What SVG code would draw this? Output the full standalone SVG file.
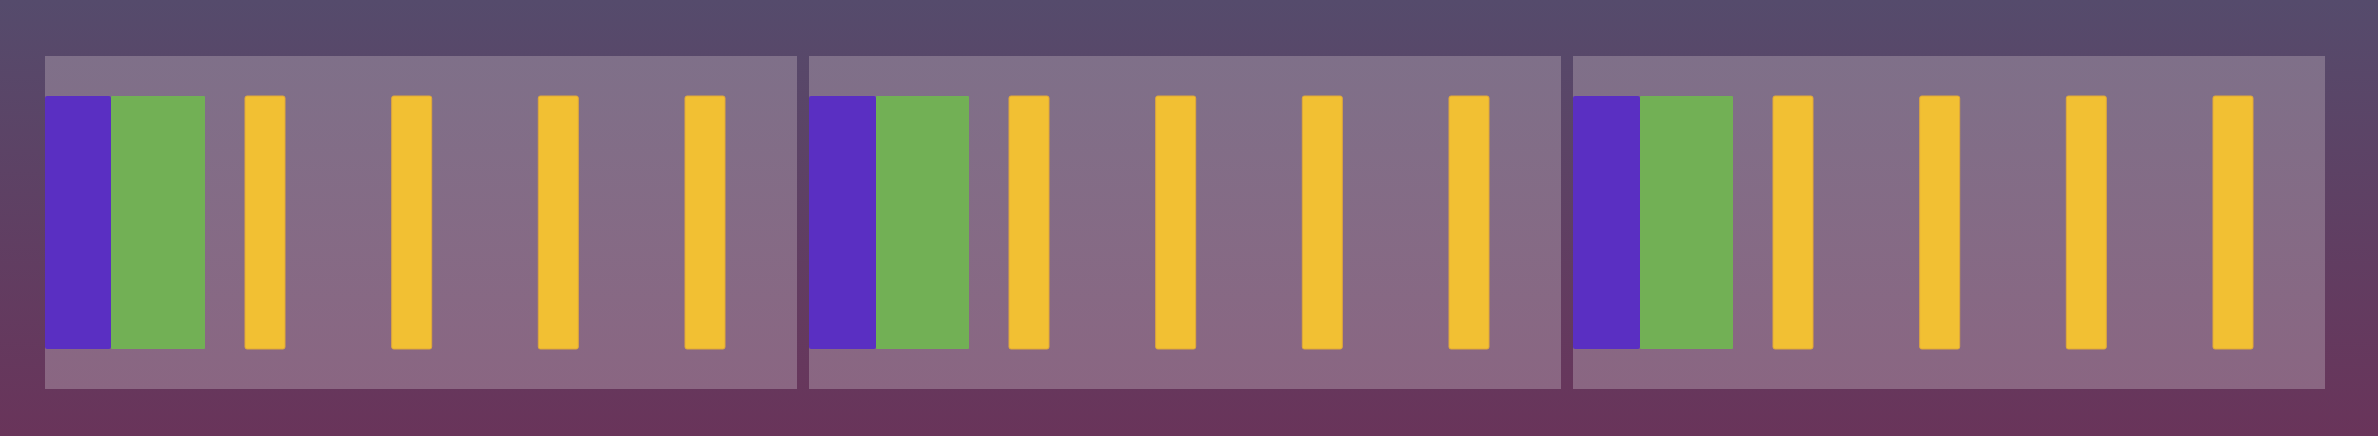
<svg xmlns="http://www.w3.org/2000/svg" width="2378" height="436" viewBox="0 0 2378 436">
<defs>
<linearGradient id="bg" x1="0" y1="0" x2="0" y2="1">
<stop offset="0" stop-color="#554b6c"/>
<stop offset="1" stop-color="#69345a"/>
</linearGradient>
<linearGradient id="pn" x1="0" y1="0" x2="0" y2="1">
<stop offset="0" stop-color="#7f7089"/>
<stop offset="1" stop-color="#8a6682"/>
</linearGradient>
<style>
.panel{fill:url(#pn)}
.blue{fill:#5a2fc2}
.green{fill:#72b055}
.yellow{fill:#f2c033;stroke:#e0a83a;stroke-width:1}
</style>
</defs>
<rect x="0" y="0" width="2378" height="436" fill="url(#bg)"/>
<g id="panel1">
<rect class="panel" x="45" y="56" width="752" height="333"/>
<rect class="blue" x="45" y="96" width="66" height="253" rx="2"/>
<rect class="green" x="111" y="96" width="94" height="253" rx="1"/>
<rect class="yellow" x="245" y="96" width="40" height="253" rx="2"/>
<rect class="yellow" x="391.7" y="96" width="40" height="253" rx="2"/>
<rect class="yellow" x="538.3" y="96" width="40" height="253" rx="2"/>
<rect class="yellow" x="685" y="96" width="40" height="253" rx="2"/>
</g>
<g id="panel2">
<rect class="panel" x="809" y="56" width="752" height="333"/>
<rect class="blue" x="809" y="96" width="67" height="253" rx="2"/>
<rect class="green" x="876" y="96" width="93" height="253" rx="1"/>
<rect class="yellow" x="1009" y="96" width="40" height="253" rx="2"/>
<rect class="yellow" x="1155.7" y="96" width="40" height="253" rx="2"/>
<rect class="yellow" x="1302.3" y="96" width="40" height="253" rx="2"/>
<rect class="yellow" x="1449" y="96" width="40" height="253" rx="2"/>
</g>
<g id="panel3">
<rect class="panel" x="1573" y="56" width="752" height="333"/>
<rect class="blue" x="1573" y="96" width="67" height="253" rx="2"/>
<rect class="green" x="1640" y="96" width="93" height="253" rx="1"/>
<rect class="yellow" x="1773" y="96" width="40" height="253" rx="2"/>
<rect class="yellow" x="1919.7" y="96" width="40" height="253" rx="2"/>
<rect class="yellow" x="2066.3" y="96" width="40" height="253" rx="2"/>
<rect class="yellow" x="2213" y="96" width="40" height="253" rx="2"/>
</g>
<g id="connectors"></g>
</svg>
